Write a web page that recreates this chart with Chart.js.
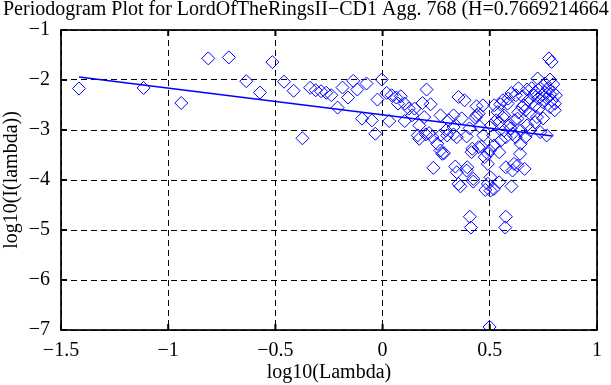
<!DOCTYPE html>
<html>
<head>
<meta charset="utf-8">
<script src="https://cdn.jsdelivr.net/npm/chart.js"></script>
<style>
  html, body { margin: 0; padding: 0; background: #fff; }
  canvas { display: block; }
</style>
</head>
<body>
<canvas id="chart" width="611" height="385"></canvas>
<script>
const titleText = 'Periodogram Plot for LordOfTheRingsII\u2212CD1 Agg. 768 (H=0.7669214664';
const xTitle = 'log10(Lambda)';
const yTitle = 'log10(I(lambda))';

const xTicks = [-1.5, -1, -0.5, 0, 0.5, 1];
const yTicks = [-7, -6, -5, -4, -3, -2, -1];

// log10(lambda) of each periodogram point
const logLambda = [
  -1.416, -1.115, -0.939, -0.813, -0.717, -0.636, -0.572, -0.514, -0.460, -0.415,
  -0.374, -0.338, -0.312, -0.287, -0.263, -0.239, -0.210, -0.187, -0.161, -0.137,
  -0.118, -0.096, -0.075, -0.050, -0.034, -0.024, -0.004, 0.019, 0.031, 0.042,
  0.064, 0.072, 0.085, 0.103, 0.103, 0.122, 0.138, 0.149, 0.164, 0.171,
  0.171, 0.186, 0.194, 0.202, 0.205, 0.217, 0.224, 0.232, 0.237, 0.255,
  0.270, 0.270, 0.270, 0.278, 0.286, 0.296, 0.301, 0.309, 0.331, 0.331,
  0.331, 0.339, 0.346, 0.346, 0.354, 0.354, 0.363, 0.369, 0.382, 0.392,
  0.395, 0.392, 0.406, 0.407, 0.412, 0.415, 0.418, 0.423, 0.423, 0.433,
  0.438, 0.438, 0.448, 0.448, 0.452, 0.461, 0.468, 0.470, 0.476, 0.479,
  0.491, 0.491, 0.491, 0.499, 0.499, 0.503, 0.503, 0.506, 0.516, 0.519,
  0.521, 0.521, 0.530, 0.537, 0.544, 0.544, 0.544, 0.549, 0.552, 0.560,
  0.561, 0.567, 0.567, 0.572, 0.575, 0.575, 0.575, 0.583, 0.586, 0.590,
  0.597, 0.601, 0.601, 0.606, 0.606, 0.613, 0.616, 0.621, 0.621, 0.629,
  0.629, 0.633, 0.634, 0.641, 0.644, 0.644, 0.651, 0.652, 0.659, 0.662,
  0.666, 0.666, 0.674, 0.674, 0.680, 0.689, 0.689, 0.695, 0.704, 0.712,
  0.712, 0.712, 0.720, 0.723, 0.726, 0.731, 0.735, 0.735, 0.744, 0.749,
  0.749, 0.758, 0.758, 0.765, 0.767, 0.771, 0.776, 0.781, 0.781, 0.781,
  0.788, 0.790, 0.794, 0.796, 0.803, 0.803, 0.808
];

// log10(I(lambda)) of each point
const logPower = [
  -2.171, -2.159, -2.460, -1.568, -1.548, -2.024, -2.251, -1.643, -2.034, -2.215,
  -3.165, -2.155, -2.205, -2.225, -2.255, -2.305, -2.552, -2.151, -2.351, -2.018,
  -2.191, -2.773, -2.070, -2.807, -3.074, -2.392, -1.990, -2.259, -2.821, -2.305,
  -2.351, -2.472, -2.325, -2.472, -2.821, -2.572, -2.707, -2.572, -3.108, -2.908,
  -3.175, -2.460, -2.741, -3.088, -2.191, -3.062, -2.486, -3.142, -3.757, -3.275,
  -2.707, -3.108, -3.410, -3.476, -3.464, -3.008, -3.108, -2.807, -2.942, -3.088,
  -2.707, -3.731, -3.845, -3.143, -2.339, -4.078, -4.127, -2.767, -2.406, -3.129,
  -3.745, -3.811, -2.968, -4.735, -4.950, -3.444, -3.376, -3.978, -4.032, -2.753,
  -2.526, -2.707, -3.343, -2.673, -2.928, -3.329, -2.506, -3.108, -3.544, -4.199,
  -3.677, -4.078, -3.476, -3.410, -6.938, -4.213, -3.946, -2.908, -3.108, -4.179,
  -3.309, -2.506, -2.807, -2.641, -4.046, -3.444, -2.847, -2.486, -3.209, -2.741,
  -2.406, -2.707, -3.008, -4.950, -4.735, -3.143, -3.745, -2.472, -2.371, -2.908,
  -2.968, -2.259, -4.127, -3.811, -3.074, -3.677, -2.807, -3.143, -2.305, -2.773,
  -3.711, -2.647, -2.165, -3.476, -3.275, -3.008, -2.540, -2.325, -2.506, -3.777,
  -3.143, -2.606, -2.908, -2.191, -2.406, -2.673, -3.008, -2.165, -2.305, -2.506,
  -2.245, -2.847, -2.741, -1.970, -2.365, -2.566, -3.042, -2.165, -2.305, -2.446,
  -2.767, -2.070, -2.245, -3.108, -2.365, -2.165, -1.568, -1.990, -2.540, -2.285,
  -1.637, -2.406, -2.245, -2.084, -2.472, -2.606, -2.305
];

// least squares fit line end points
const fitX = [-1.416, 0.793];
const fitY = [-1.94, -3.119];

const serif = 'Liberation Serif, Times New Roman, serif';
const minus = v => String(v).replace('-', '\u2212');

const points = logLambda.map((x, i) => ({ x: x, y: logPower[i] }));
const fitLine = fitX.map((x, i) => ({ x: x, y: fitY[i] }));

// solid frame, inward tick marks and the title
const framePlugin = {
  id: 'frame',
  afterDraw(chart) {
    const ctx = chart.ctx;
    const a = chart.chartArea;
    const xs = chart.scales.x;
    const ys = chart.scales.y;
    ctx.save();
    ctx.strokeStyle = '#000';
    ctx.lineWidth = 1.7;
    ctx.strokeRect(a.left, a.top, a.right - a.left, a.bottom - a.top);
    ctx.lineWidth = 2;
    ctx.beginPath();
    xTicks.forEach(v => {
      const px = xs.getPixelForValue(v);
      ctx.moveTo(px, a.bottom); ctx.lineTo(px, a.bottom - 6);
      ctx.moveTo(px, a.top); ctx.lineTo(px, a.top + 6);
    });
    yTicks.forEach(v => {
      const py = ys.getPixelForValue(v);
      ctx.moveTo(a.left, py); ctx.lineTo(a.left + 6, py);
      ctx.moveTo(a.right, py); ctx.lineTo(a.right - 6, py);
    });
    ctx.stroke();
    ctx.fillStyle = '#000';
    ctx.font = '20px ' + serif;
    ctx.textAlign = 'left';
    ctx.textBaseline = 'alphabetic';
    ctx.fillText(titleText, 3, 15);
    ctx.restore();
  }
};

new Chart(document.getElementById('chart'), {
  type: 'scatter',
  data: {
    datasets: [
      {
        data: points,
        pointStyle: 'rectRot',
        pointRadius: 6.5,
        pointHoverRadius: 6.5,
        borderColor: '#0000ff',
        backgroundColor: 'rgba(0,0,0,0)',
        borderWidth: 1,
        showLine: false
      },
      {
        data: fitLine,
        showLine: true,
        pointRadius: 0,
        borderColor: '#0000ff',
        borderWidth: 1.5,
        fill: false
      }
    ]
  },
  options: {
    responsive: false,
    animation: false,
    devicePixelRatio: 1,
    layout: { padding: { top: 30, right: 3, left: 0, bottom: 0 } },
    plugins: { legend: { display: false }, tooltip: { enabled: false } },
    scales: {
      x: {
        type: 'linear',
        min: -1.5,
        max: 1,
        afterBuildTicks: s => { s.ticks = xTicks.map(v => ({ value: v })); },
        afterFit: s => { s.height = 55; },
        ticks: { color: '#000', padding: 9, font: { family: serif, size: 20 }, callback: minus },
        grid: { color: '#000', lineWidth: 1, drawTicks: false },
        border: { display: false, dash: [6, 4] },
        title: { display: true, text: xTitle, color: '#000', padding: 0, font: { family: serif, size: 20 } }
      },
      y: {
        type: 'linear',
        min: -7,
        max: -1,
        afterBuildTicks: s => { s.ticks = yTicks.map(v => ({ value: v })); },
        afterFit: s => { s.width = 61; },
        ticks: { color: '#000', padding: 11, font: { family: serif, size: 20 }, callback: minus },
        grid: { color: '#000', lineWidth: 1, drawTicks: false },
        border: { display: false, dash: [6, 4] },
        title: { display: true, text: yTitle, color: '#000', padding: 0, font: { family: serif, size: 20 } }
      }
    }
  },
  plugins: [framePlugin]
});
</script>
</body>
</html>
